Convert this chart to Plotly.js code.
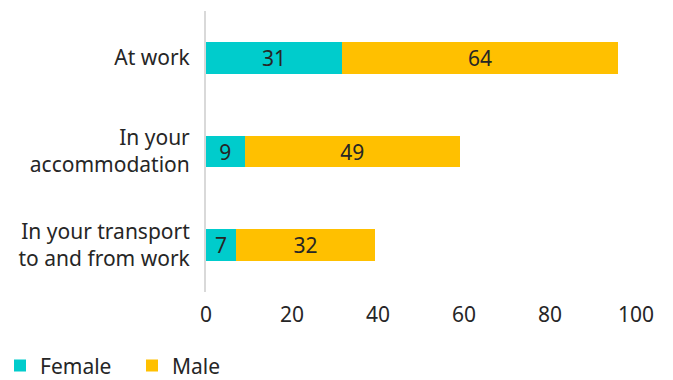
<!DOCTYPE html>
<html>
<head>
<meta charset="utf-8">
<script src="https://cdn.plot.ly/plotly-3.0.1.min.js"></script>
<style>html,body{margin:0;padding:0;background:#fff;}#chart{width:673px;height:380px;}</style>
</head>
<body>
<div id="chart"></div>
<script>
var categories = ["At work", "In your<br>accommodation", "In your transport<br>to and from work"];
var femaleValues = [31.6, 9.0, 7.0];
var maleValues = [64.3, 50.0, 32.3];
var femaleLabels = ["31", "9", "7"];
var maleLabels = ["64", "49", "32"];
var xTicks = [0, 20, 40, 60, 80, 100];

var fontFamily = "'Noto Sans', 'Open Sans', sans-serif";
var textColor = "#262626";
var fs = 21;

var traces = [
  {
    type: "bar", orientation: "h", name: "Female",
    y: categories, x: femaleValues, text: femaleLabels,
    textposition: "inside", insidetextanchor: "middle",
    textangle: 0, constraintext: "none",
    textfont: {family: fontFamily, size: fs, color: textColor},
    marker: {color: "#00CCCC"}, hoverinfo: "skip", cliponaxis: false
  },
  {
    type: "bar", orientation: "h", name: "Male",
    y: categories, x: maleValues, text: maleLabels,
    textposition: "inside", insidetextanchor: "middle",
    textangle: 0, constraintext: "none",
    textfont: {family: fontFamily, size: fs, color: textColor},
    marker: {color: "#FFC000"}, hoverinfo: "skip", cliponaxis: false
  }
];

var layout = {
  width: 673, height: 380,
  margin: {l: 206, r: 37, t: 11, b: 88, autoexpand: false},
  barmode: "stack",
  bargap: 0.66,
  paper_bgcolor: "#fff", plot_bgcolor: "#fff",
  font: {family: fontFamily, size: fs, color: textColor},
  showlegend: true,
  legend: {
    orientation: "h", xref: "container", yref: "paper",
    x: 0, y: -0.19, xanchor: "left", yanchor: "top",
    font: {family: fontFamily, size: fs, color: textColor},
    traceorder: "normal", itemwidth: 30,
    entrywidth: 87, entrywidthmode: "pixels"
  },
  xaxis: {
    range: [0, 100], tickvals: xTicks, ticktext: xTicks.map(String),
    showgrid: false, zeroline: false, showline: false, ticks: "",
    ticklabelstandoff: 8,
    tickfont: {family: fontFamily, size: fs, color: textColor},
    fixedrange: true
  },
  yaxis: {
    type: "category", autorange: "reversed",
    showgrid: false, zeroline: false, showline: true,
    linecolor: "#d9d9d9", linewidth: 2, ticks: "",
    ticklabelstandoff: 10,
    tickfont: {family: fontFamily, size: fs, color: textColor},
    fixedrange: true
  }
};

Plotly.newPlot("chart", traces, layout, {displayModeBar: false, staticPlot: true});
</script>
</body>
</html>
